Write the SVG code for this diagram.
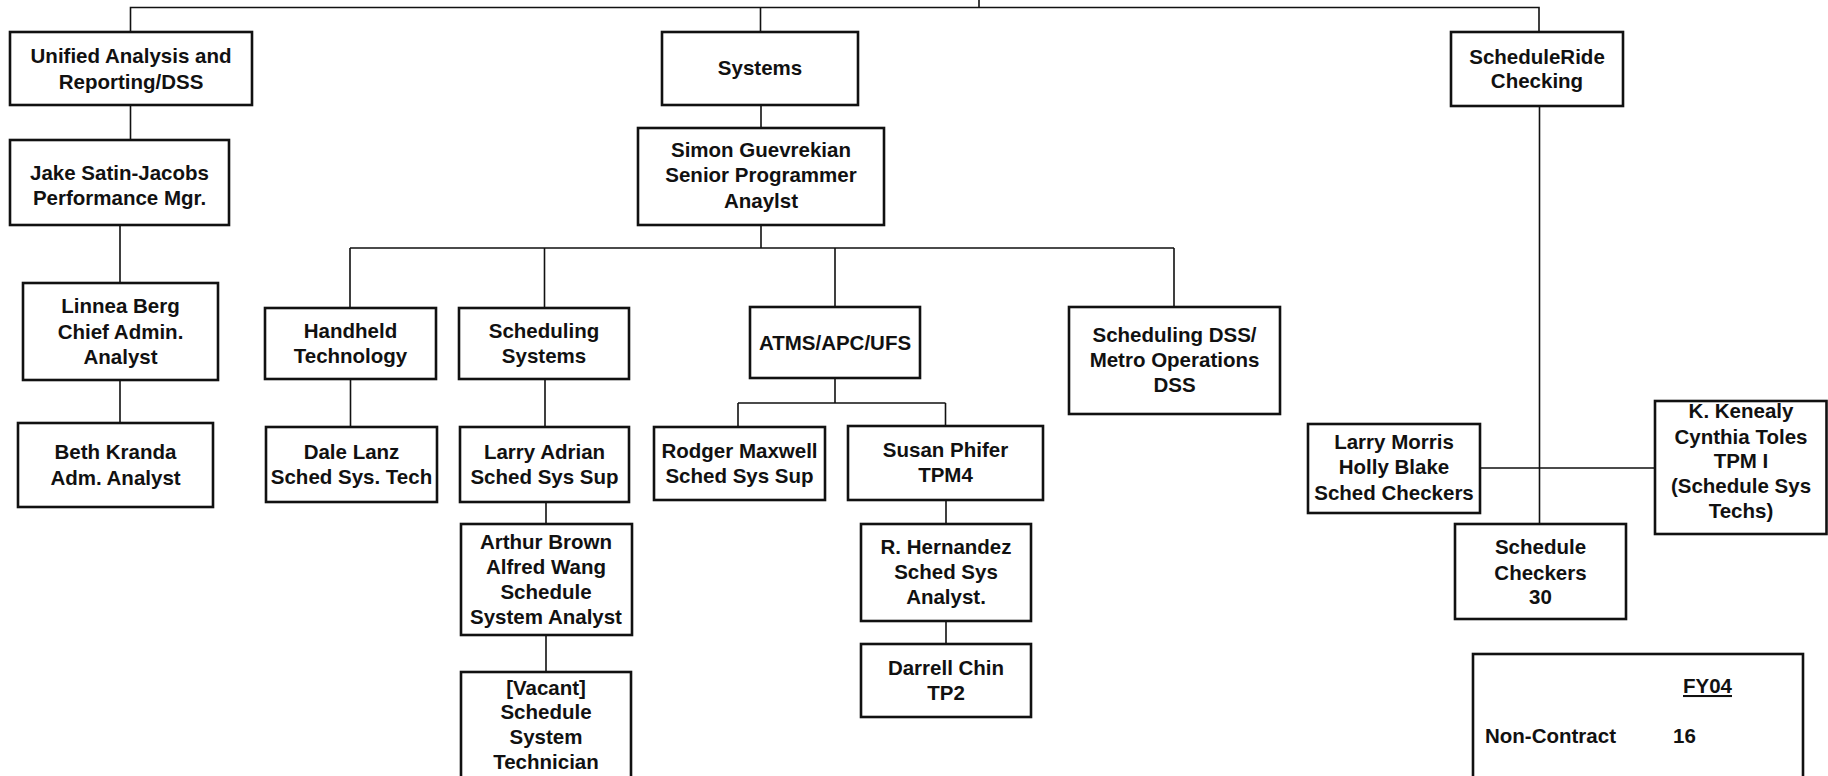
<svg xmlns="http://www.w3.org/2000/svg" width="1828" height="776" viewBox="0 0 1828 776">
<style>
.b{fill:#fff;stroke:#111;stroke-width:2.6}
.t{font-family:"Liberation Sans",Arial,sans-serif;font-weight:bold;font-size:20.5px;fill:#111;text-anchor:middle}
.tl{font-family:"Liberation Sans",Arial,sans-serif;font-weight:bold;font-size:20.5px;fill:#111}
.c{fill:none;stroke:#111;stroke-width:1.6}
</style>
<rect width="1828" height="776" fill="#fff"/>
<g id="connectors">
<path class="c" d="M130.5,33 V7.5 H1539 V32 M979,0 V7.5 M760.5,7.5 V32"/>
<path class="c" d="M130.5,105 V140 M120,225 V283 M120,380 V423"/>
<path class="c" d="M761,105 V128 M761,225 V248 M350,248 H1174 M350,248 V308 M544.5,248 V308 M835,248 V307 M1174,248 V307"/>
<path class="c" d="M350.5,379 V427 M545,379 V427 M546,502 V524 M546,635 V672"/>
<path class="c" d="M835,378 V403 M738,403 H945.5 M738,403 V427 M945.5,403 V426 M946,500 V524 M946,621 V644"/>
<path class="c" d="M1539.5,106 V524 M1480,468 H1655"/>
</g>
<g id="n-unified"><rect class="b" x="10" y="32" width="242" height="73"/><text class="t"><tspan x="131" y="63">Unified Analysis and</tspan><tspan x="131" y="88.5">Reporting/DSS</tspan></text></g>
<g id="n-systems"><rect class="b" x="662" y="32" width="196" height="73"/><text class="t"><tspan x="760" y="75">Systems</tspan></text></g>
<g id="n-scheduleride"><rect class="b" x="1451" y="32" width="172" height="74"/><text class="t"><tspan x="1537" y="63.5">ScheduleRide</tspan><tspan x="1537" y="87.5">Checking</tspan></text></g>
<g id="n-jake"><rect class="b" x="10" y="140" width="219" height="85"/><text class="t"><tspan x="119.5" y="180">Jake Satin-Jacobs</tspan><tspan x="119.5" y="204.5">Performance Mgr.</tspan></text></g>
<g id="n-simon"><rect class="b" x="638" y="128" width="246" height="97"/><text class="t"><tspan x="761" y="157">Simon Guevrekian</tspan><tspan x="761" y="182">Senior Programmer</tspan><tspan x="761" y="207.5">Anaylst</tspan></text></g>
<g id="n-linnea"><rect class="b" x="23" y="283" width="195" height="97"/><text class="t"><tspan x="120.5" y="313">Linnea Berg</tspan><tspan x="120.5" y="338.5">Chief Admin.</tspan><tspan x="120.5" y="364">Analyst</tspan></text></g>
<g id="n-beth"><rect class="b" x="18" y="423" width="195" height="84"/><text class="t"><tspan x="115.5" y="458.5">Beth Kranda</tspan><tspan x="115.5" y="485">Adm. Analyst</tspan></text></g>
<g id="n-handheld"><rect class="b" x="265" y="308" width="171" height="71"/><text class="t"><tspan x="350.5" y="337.5">Handheld</tspan><tspan x="350.5" y="363">Technology</tspan></text></g>
<g id="n-schedsys"><rect class="b" x="459" y="308" width="170" height="71"/><text class="t"><tspan x="544" y="337.5">Scheduling</tspan><tspan x="544" y="363">Systems</tspan></text></g>
<g id="n-dale"><rect class="b" x="266" y="427" width="171" height="75"/><text class="t"><tspan x="351.5" y="458.5">Dale Lanz</tspan><tspan x="351.5" y="483.5">Sched Sys. Tech</tspan></text></g>
<g id="n-larryadrian"><rect class="b" x="460" y="427" width="169" height="75"/><text class="t"><tspan x="544.5" y="458.5">Larry Adrian</tspan><tspan x="544.5" y="483.5">Sched Sys Sup</tspan></text></g>
<g id="n-atms"><rect class="b" x="750" y="307" width="170" height="71"/><text class="t"><tspan x="835" y="349.5">ATMS/APC/UFS</tspan></text></g>
<g id="n-scheddss"><rect class="b" x="1069" y="307" width="211" height="107"/><text class="t"><tspan x="1174.5" y="342">Scheduling DSS/</tspan><tspan x="1174.5" y="367">Metro Operations</tspan><tspan x="1174.5" y="392">DSS</tspan></text></g>
<g id="n-rodger"><rect class="b" x="654" y="427" width="171" height="73"/><text class="t"><tspan x="739.5" y="457.5">Rodger Maxwell</tspan><tspan x="739.5" y="483">Sched Sys Sup</tspan></text></g>
<g id="n-susan"><rect class="b" x="848" y="426" width="195" height="74"/><text class="t"><tspan x="945.5" y="457">Susan Phifer</tspan><tspan x="945.5" y="482">TPM4</tspan></text></g>
<g id="n-arthur"><rect class="b" x="461" y="524" width="171" height="111"/><text class="t"><tspan x="546" y="548.5">Arthur Brown</tspan><tspan x="546" y="574">Alfred Wang</tspan><tspan x="546" y="599">Schedule</tspan><tspan x="546" y="624">System Analyst</tspan></text></g>
<g id="n-vacant"><rect class="b" x="461" y="672" width="170" height="120"/><text class="t"><tspan x="546" y="694.5">[Vacant]</tspan><tspan x="546" y="718.5">Schedule</tspan><tspan x="546" y="743.5">System</tspan><tspan x="546" y="768.5">Technician</tspan></text></g>
<g id="n-hernandez"><rect class="b" x="861" y="524" width="170" height="97"/><text class="t"><tspan x="946" y="553.5">R. Hernandez</tspan><tspan x="946" y="578.5">Sched Sys</tspan><tspan x="946" y="603.5">Analyst.</tspan></text></g>
<g id="n-darrell"><rect class="b" x="861" y="644" width="170" height="73"/><text class="t"><tspan x="946" y="675">Darrell Chin</tspan><tspan x="946" y="700">TP2</tspan></text></g>
<g id="n-larrymorris"><rect class="b" x="1308" y="424" width="172" height="89"/><text class="t"><tspan x="1394" y="448.5">Larry Morris</tspan><tspan x="1394" y="474">Holly Blake</tspan><tspan x="1394" y="499.5">Sched Checkers</tspan></text></g>
<g id="n-checkers"><rect class="b" x="1455" y="524" width="171" height="95"/><text class="t"><tspan x="1540.5" y="554">Schedule</tspan><tspan x="1540.5" y="579.5">Checkers</tspan><tspan x="1540.5" y="604">30</tspan></text></g>
<g id="n-kenealy"><rect class="b" x="1655" y="401" width="171.5" height="133"/><text class="t"><tspan x="1741" y="417.5">K. Kenealy</tspan><tspan x="1741" y="443.5">Cynthia Toles</tspan><tspan x="1741" y="467.5">TPM I</tspan><tspan x="1741" y="493">(Schedule Sys</tspan><tspan x="1741" y="517.5">Techs)</tspan></text></g>
<g id="n-fy04"><rect class="b" x="1473" y="654" width="330" height="140"/><text class="tl" x="1683" y="693" text-decoration="underline">FY04</text><text class="tl" x="1485" y="743">Non-Contract</text><text class="tl" x="1673" y="743">16</text></g>
</svg>
